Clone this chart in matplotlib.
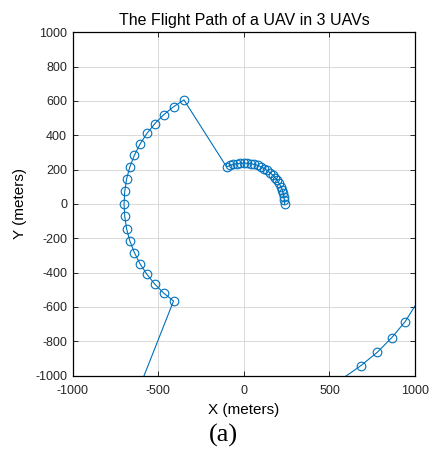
import matplotlib
matplotlib.use("Agg")
import matplotlib.pyplot as plt

# path of the UAV (meters); end points lie outside the view
path_x = [238, 237, 234, 230, 224, 216, 206, 195, 182, 168, 153, 137,
          119, 101, 81, 62, 41, 21, 0, -21, -41, -62, -81, -101,
          -350, -411, -468, -520, -566, -606, -639, -666, -685, -696,
          -700, -696, -685, -666, -639, -606, -566, -520, -468, -411,
          -640,
          520, 684, 780, 864, 942, 1030]
path_y = [0, 21, 41, 62, 81, 101, 119, 137, 153, 168, 182, 195,
          206, 216, 224, 230, 234, 237, 238, 237, 234, 230, 224, 216,
          606, 566, 520, 468, 411, 350, 285, 216, 146, 73,
          0, -73, -146, -216, -285, -350, -411, -468, -520, -566,
          -1145,
          -1057, -942, -864, -779, -686, -546]

xticks = [-1000, -500, 0, 500, 1000]
yticks = [-1000, -800, -600, -400, -200, 0, 200, 400, 600, 800, 1000]

plt.rcParams['font.family'] = ['Liberation Sans', 'DejaVu Sans']
plt.rcParams['axes.unicode_minus'] = False
plt.rcParams['axes.linewidth'] = 0.9

fig = plt.figure(figsize=(4.36, 4.55), dpi=100)
ax = fig.add_axes([0.1667, 0.1747, 0.7853, 0.7543])

ax.plot(path_x, path_y, '-o', color='#0072BD', lw=0.8, ms=6.2,
        mfc='none', mew=0.8)

ax.set_xlim(-1000, 1000)
ax.set_ylim(-1000, 1000)
ax.set_xticks(xticks)
ax.set_yticks(yticks)
ax.grid(True, color='#d9d9d9', lw=0.7)
ax.set_axisbelow(True)
ax.tick_params(direction='in', length=3.5, width=0.7, labelsize=9,
               top=True, right=True, pad=4, colors='#262626')
ax.tick_params(axis='x', pad=7)

ax.set_title('The Flight Path of a UAV in 3 UAVs', fontsize=11.5, pad=5)
ax.set_xlabel('X (meters)', fontsize=11, labelpad=4)
ax.set_ylabel('Y (meters)', fontsize=11, labelpad=6)

fig.text(0.512, 0.044, '(a)', family='Liberation Serif', fontsize=19,
         ha='center', va='center')

fig.savefig('out.png', dpi=100)
